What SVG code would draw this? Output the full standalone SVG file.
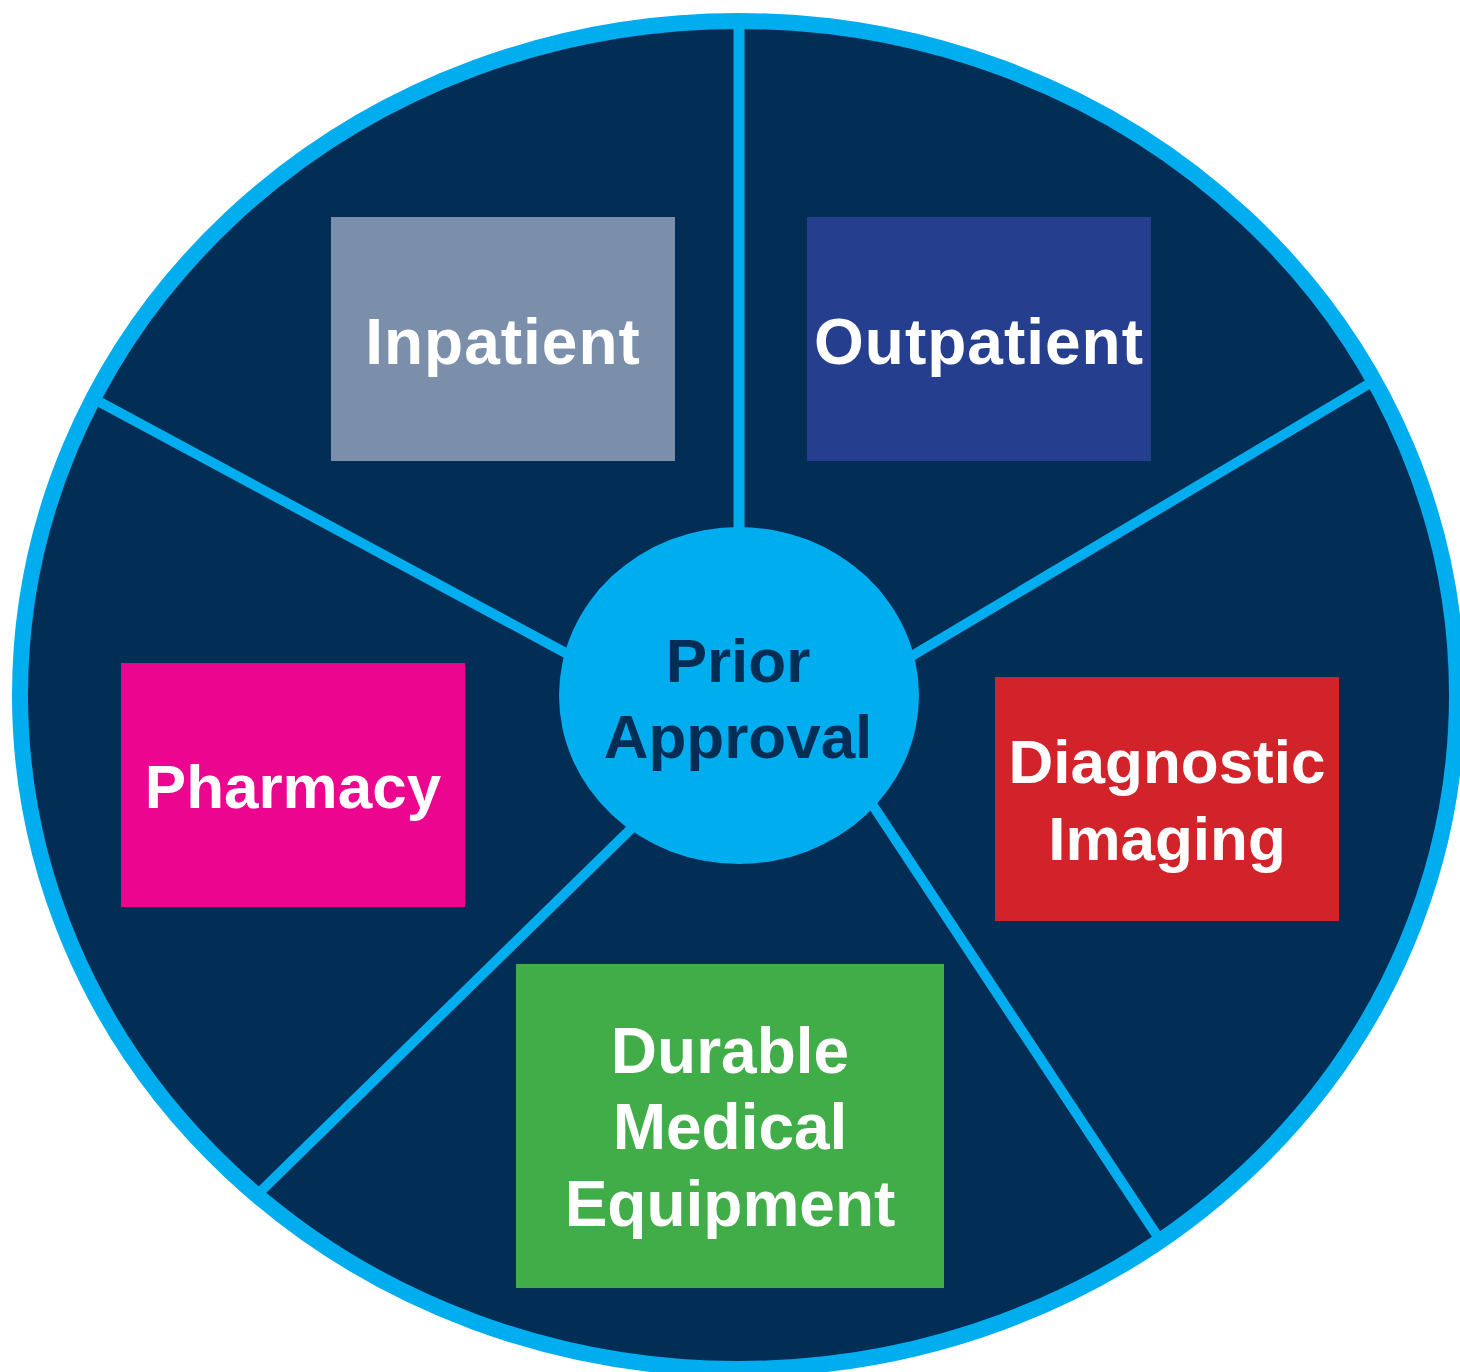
<svg xmlns="http://www.w3.org/2000/svg" width="1460" height="1372" viewBox="0 0 1460 1372">
  <style>
    .disc { fill: #022D54; stroke: #00ADEE; stroke-width: 16; }
    .spoke { stroke: #00ADEE; stroke-width: 10; stroke-linecap: butt; fill: none; }
    .hub { fill: #00ADEE; }
    .label { font-family: "Liberation Sans", Arial, Helvetica, sans-serif; font-weight: 700; font-size: 62px; fill: #FFFFFF; text-anchor: middle; }
    .wide { font-size: 64px; letter-spacing: 1px; }
    .large { font-size: 64px; }
    .hub-label { font-family: "Liberation Sans", Arial, Helvetica, sans-serif; font-weight: 700; font-size: 62px; fill: #022D54; text-anchor: middle; }
  </style>
  <rect width="1460" height="1372" fill="#FFFFFF"/>

  <!-- outer wheel -->
  <g id="wheel">
    <ellipse class="disc" cx="738.5" cy="695" rx="718.5" ry="674"/>
  </g>

  <!-- spokes dividing the wheel into five segments -->
  <g id="connectors">
    <line class="spoke" x1="739" y1="24" x2="739" y2="540" style="stroke-width:11"/>
    <line class="spoke" x1="1372" y1="382" x2="905" y2="660"/>
    <line class="spoke" x1="96" y1="400" x2="575" y2="658"/>
    <line class="spoke" x1="258" y1="1194" x2="640" y2="820"/>
    <line class="spoke" x1="1160" y1="1240" x2="866" y2="795"/>
  </g>

  <!-- hub -->
  <g id="prior-approval">
    <ellipse class="hub" cx="739" cy="695.5" rx="180" ry="168.5"/>
    <text class="hub-label" x="738" y="682">Prior</text>
    <text class="hub-label" x="738" y="758">Approval</text>
  </g>

  <g id="inpatient">
    <rect x="331" y="217" width="344" height="244" fill="#7B8FAB"/>
    <text class="label wide" x="503" y="364">Inpatient</text>
  </g>

  <g id="outpatient">
    <rect x="807" y="217" width="344" height="244" fill="#253F8E"/>
    <text class="label wide" x="979" y="364">Outpatient</text>
  </g>

  <g id="pharmacy">
    <rect x="121" y="663" width="344" height="244" fill="#EC058E"/>
    <text class="label" x="293" y="808">Pharmacy</text>
  </g>

  <g id="diagnostic-imaging">
    <rect x="995" y="677" width="344" height="244" fill="#D2232A"/>
    <text class="label" x="1167" y="783">Diagnostic</text>
    <text class="label" x="1167" y="860">Imaging</text>
  </g>

  <g id="durable-medical-equipment">
    <rect x="516" y="964" width="428" height="324" fill="#41AD49"/>
    <text class="label large" x="730" y="1073">Durable</text>
    <text class="label large" x="730" y="1149">Medical</text>
    <text class="label large" x="730" y="1226">Equipment</text>
  </g>
</svg>
